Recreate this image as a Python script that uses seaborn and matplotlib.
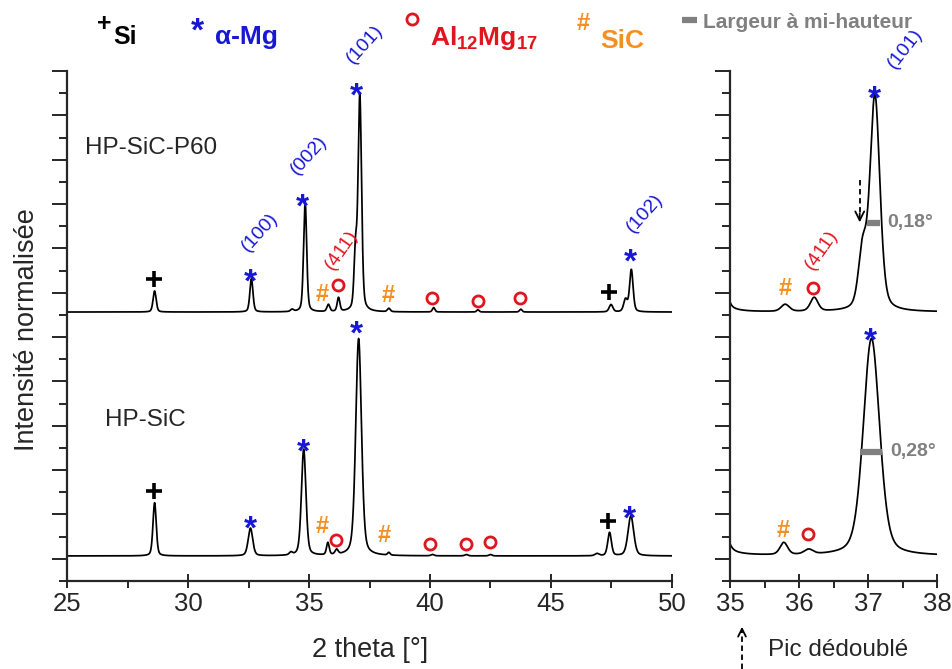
import numpy as np
import pandas as pd
import matplotlib
matplotlib.use("Agg")
import matplotlib.pyplot as plt
from matplotlib.lines import Line2D
from matplotlib.patches import FancyArrowPatch
from matplotlib.ticker import MultipleLocator, NullFormatter
import seaborn as sns

# ---------------- data ----------------
# HP-SiC-P60 : peak positions [deg], heights [a.u.], FWHM [deg]
p60_pos = [28.62, 32.62, 34.30, 34.84, 35.80, 36.22, 36.92, 37.10, 38.30, 40.15, 41.98, 43.75, 47.48, 48.08, 48.32]
p60_height = [0.95, 1.50, 0.10, 5.00, 0.32, 0.62, 2.50, 9.70, 0.15, 0.20, 0.10, 0.13, 0.33, 0.55, 1.90]
p60_fwhm = [0.15, 0.15, 0.15, 0.15, 0.14, 0.13, 0.14, 0.17, 0.14, 0.12, 0.12, 0.12, 0.18, 0.18, 0.17]
p60_offset = 11.13

# HP-SiC
sic_pos = [28.62, 32.58, 34.25, 34.78, 35.78, 36.14, 37.05, 38.30, 40.10, 41.50, 42.50, 46.90, 47.42, 48.30]
sic_height = [2.40, 1.25, 0.12, 4.80, 0.55, 0.22, 9.80, 0.12, 0.06, 0.06, 0.06, 0.10, 1.05, 1.80]
sic_fwhm = [0.16, 0.22, 0.15, 0.22, 0.13, 0.15, 0.28, 0.12, 0.15, 0.15, 0.15, 0.20, 0.18, 0.28]
sic_offset = 0.13

sample_names = ["HP-SiC-P60", "HP-SiC"]
x_ticks_main = [25, 30, 35, 40, 45, 50]
x_ticks_zoom = [35, 36, 37, 38]
fwhm_labels = ["0,18°", "0,28°"]

# ---------------- style ----------------
sns.set_style("ticks")
plt.rcParams['font.family'] = ['Liberation Sans', 'DejaVu Sans']
plt.rcParams['mathtext.fontset'] = 'custom'
plt.rcParams['mathtext.rm'] = 'Liberation Sans'
plt.rcParams['mathtext.bf'] = 'Liberation Sans:bold'
plt.rcParams['axes.linewidth'] = 1.6

BLUE = "#1818d4"
RED = "#e0161f"
ORANGE = "#f39021"
GRAY = "#808080"
W, H = 952, 669
DPI = 100


def pattern(x, pos, hgt, fw, eta=0.35):
    y = np.zeros_like(x)
    for p, a, w in zip(pos, hgt, fw):
        d = (x - p) / (w / 2.0)
        y += a * (eta / (1 + d ** 2) + (1 - eta) * np.exp(-np.log(2) * d ** 2))
    return y


x = np.arange(25.0, 50.0001, 0.004)
df = pd.concat([
    pd.DataFrame({"two_theta": x, "I": pattern(x, p60_pos, p60_height, p60_fwhm) + p60_offset, "sample": sample_names[0]}),
    pd.DataFrame({"two_theta": x, "I": pattern(x, sic_pos, sic_height, sic_fwhm) + sic_offset, "sample": sample_names[1]}),
])

fig = plt.figure(figsize=(W / DPI, H / DPI), dpi=DPI)
axL = fig.add_axes([67 / W, 88 / H, 605 / W, 510 / H])
axR = fig.add_axes([730 / W, 88 / H, 207 / W, 510 / H])

for ax in (axL, axR):
    sns.lineplot(data=df, x="two_theta", y="I", units="sample", estimator=None, sort=False,
                 color="black", lw=1.25, ax=ax, legend=False)
    ax.set_ylim(-1, 22)
    ax.yaxis.set_major_locator(MultipleLocator(2))
    ax.yaxis.set_minor_locator(MultipleLocator(1))
    ax.yaxis.set_major_formatter(NullFormatter())
    ax.tick_params(axis='y', which='major', direction='out', length=11, width=1.4)
    ax.tick_params(axis='y', which='minor', direction='out', length=6, width=1.4)
    ax.tick_params(axis='x', which='major', direction='inout', length=10, width=1.4, labelsize=18.5, pad=3)
    ax.tick_params(axis='x', which='minor', direction='out', length=5, width=1.4)
    ax.set_xlabel("")
    ax.set_ylabel("")
    for s in ("top", "right"):
        ax.spines[s].set_visible(False)

axL.set_xlim(25, 50)
axL.set_xticks(x_ticks_main)
axL.xaxis.set_minor_locator(MultipleLocator(2.5))
axR.set_xlim(35, 38)
axR.set_xticks(x_ticks_zoom)
axR.xaxis.set_minor_locator(MultipleLocator(0.5))

fig.text(370 / W, 1 - 650 / H, "2 theta [°]", ha='center', va='center', fontsize=19.5)
fig.text(27 / W, 1 - 330 / H, "Intensité normalisée", ha='center', va='center', rotation=90, fontsize=19.5)


# ---------------- phase markers ----------------
def star(ax, xx, yy, fs=24):
    ax.annotate('*', (xx, yy), xytext=(0, -0.60 * fs), textcoords='offset points', ha='center',
                va='baseline', color=BLUE, fontsize=fs, fontweight='bold', annotation_clip=False)


def plus(ax, xx, yy):
    ax.plot([xx], [yy], marker='+', ms=11, mew=2.6, color='black', clip_on=False)


def circ(ax, xx, yy):
    ax.plot([xx], [yy], marker='o', ms=8, mew=2.0, mfc='none', mec=RED, clip_on=False)


def hashm(ax, xx, yy, fs=17):
    ax.annotate('#', (xx, yy), xytext=(0, -0.36 * fs), textcoords='offset points', ha='center',
                va='baseline', color=ORANGE, fontsize=fs, fontweight='bold', annotation_clip=False)


def miller(ax, xx, yy, s, color=BLUE, rot=48):
    ax.text(xx, yy, s, color=color, fontsize=14, rotation=rot, ha='center', va='center',
            rotation_mode='anchor', clip_on=False)


# upper pattern, main panel
plus(axL, 28.6, 12.62)
star(axL, 32.6, 12.94)
star(axL, 34.71, 16.32)
hashm(axL, 35.54, 12.03)
circ(axL, 36.2, 12.35)
star(axL, 36.98, 21.33)
hashm(axL, 38.26, 11.95)
for cx, cy in [(40.08, 11.76), (41.98, 11.63), (43.72, 11.76)]:
    circ(axL, cx, cy)
plus(axL, 47.4, 12.04)
star(axL, 48.3, 13.84)
miller(axL, 32.98, 14.74, "(100)")
miller(axL, 35.0, 18.2, "(002)")
miller(axL, 37.31, 23.2, "(101)")
miller(axL, 36.36, 13.93, "(411)", color=RED, rot=55)
miller(axL, 48.88, 15.6, "(102)")
axL.text(25.75, 18.53, sample_names[0], fontsize=17.5, ha='left', va='center')

# lower pattern, main panel
plus(axL, 28.6, 3.06)
star(axL, 32.56, 1.8)
star(axL, 34.75, 5.27)
hashm(axL, 35.54, 1.57)
circ(axL, 36.12, 0.85)
star(axL, 36.98, 10.59)
hashm(axL, 38.1, 1.12)
for cx, cy in [(40.0, 0.67), (41.49, 0.67), (42.48, 0.76)]:
    circ(axL, cx, cy)
plus(axL, 47.36, 1.7)
star(axL, 48.26, 2.25)
axL.text(26.57, 6.26, sample_names[1], fontsize=17.5, ha='left', va='center')

# zoom panel
hashm(axR, 35.8, 12.26)
circ(axR, 36.2, 12.2)
star(axR, 37.1, 21.2)
miller(axR, 36.32, 13.93, "(411)", color=RED, rot=55)
miller(axR, 37.54, 23.0, "(101)", rot=52)
hashm(axR, 35.77, 1.39)
circ(axR, 36.13, 1.12)
star(axR, 37.04, 10.28)

# FWHM bars
axR.plot([36.98, 37.17], [15.15, 15.15], color=GRAY, lw=4.5, solid_capstyle='butt')
axR.text(37.28, 15.15, fwhm_labels[0], color=GRAY, fontsize=14, fontweight='bold', ha='left', va='center')
axR.plot([36.89, 37.20], [4.82, 4.82], color=GRAY, lw=4.5, solid_capstyle='butt')
axR.text(37.32, 4.82, fwhm_labels[1], color=GRAY, fontsize=14, fontweight='bold', ha='left', va='center')

# dashed arrow pointing to split peak
axR.plot([36.88, 36.88], [17.1, 15.6], color='black', lw=1.3, ls=(0, (3, 2)))
axR.annotate('', xy=(36.88, 15.05), xytext=(36.88, 15.7),
             arrowprops=dict(arrowstyle='->', lw=1.3, color='black', mutation_scale=16))

# "Pic dédoublé" arrow below the zoom panel
fx = 742 / W
fig.add_artist(Line2D([fx, fx], [0.0, 1 - 632 / H], transform=fig.transFigure, color='black', lw=1.3, ls=(0, (3, 2))))
fig.add_artist(FancyArrowPatch((fx, 1 - 635 / H), (fx, 1 - 624 / H), transform=fig.transFigure,
                               arrowstyle='->', mutation_scale=14, lw=1.3, color='black'))
fig.text(768 / W, 1 - 650 / H, "Pic dédoublé", fontsize=17.5, ha='left', va='center')


# ---------------- top legend ----------------
def ftext(xpx, ybase_px, s, **kw):
    fig.text(xpx / W, 1 - ybase_px / H, s, va='baseline', **kw)


def fglyph(cx, cy, s, fs, ink, **kw):
    ybase = cy + ink * fs * DPI / 72.0
    fig.text(cx / W, 1 - ybase / H, s, ha='center', va='baseline', fontsize=fs, **kw)


fglyph(104, 22, '+', 18, 0.35, color='black', fontweight='bold')
ftext(113, 44, 'Si', fontsize=18, fontweight='bold', color='black')
fglyph(197, 21, '*', 24, 0.60, color=BLUE, fontweight='bold')
ftext(215, 44, 'α-Mg', fontsize=19, fontweight='bold', color=BLUE)
fig.add_artist(Line2D([412 / W], [1 - 19 / H], marker='o', ms=8, mew=2.0, mfc='none', mec=RED,
                      transform=fig.transFigure))
ftext(430, 45, r'$\mathbf{Al_{12}Mg_{17}}$', fontsize=19, color=RED)
fglyph(583, 22, '#', 17, 0.36, color=ORANGE, fontweight='bold')
ftext(600, 48, 'SiC', fontsize=19, fontweight='bold', color=ORANGE)
fig.add_artist(Line2D([682 / W, 697 / W], [1 - 20 / H, 1 - 20 / H], transform=fig.transFigure,
                      color=GRAY, lw=4.5, solid_capstyle='butt'))
ftext(703, 28, 'Largeur à mi-hauteur', fontsize=15, fontweight='bold', color=GRAY)

fig.savefig("out.png", dpi=DPI)
